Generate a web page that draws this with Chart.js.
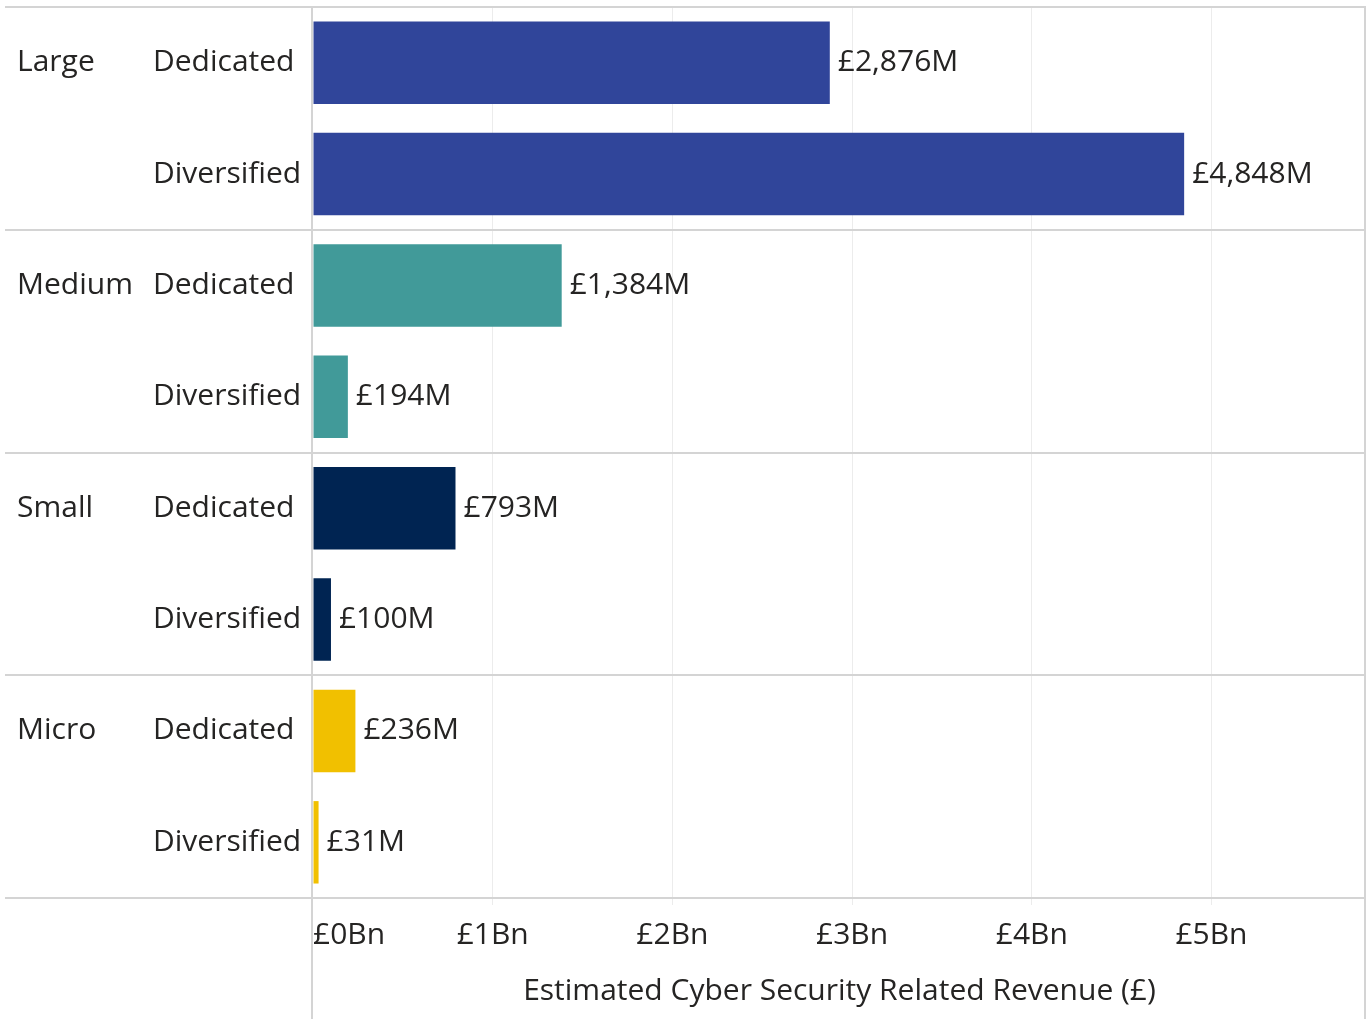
<!DOCTYPE html>
<html>
<head>
<meta charset="utf-8">
<script src="https://cdn.jsdelivr.net/npm/chart.js@4/dist/chart.umd.min.js"></script>
<style>
  html, body { margin: 0; padding: 0; background: #fff; }
  #wrap { width: 1370px; height: 1019px; position: relative; }
</style>
</head>
<body>
<div id="wrap"><canvas id="chart"></canvas></div>
<script>
"use strict";

// Company size bands, each split into two business types.
const sizes = ["Large", "Medium", "Small", "Micro"];
const types = ["Dedicated", "Diversified"];
// Estimated revenue, £M, one value per size/type row.
const revenue = [2876, 4848, 1384, 194, 793, 100, 236, 31];
const bandColours = ["#30459a", "#419a99", "#002452", "#f1c000"];
const xTicks = [0, 1000, 2000, 3000, 4000, 5000];
const xMax = 5860;

const FONT = "'Open Sans', 'Noto Sans', sans-serif";
const FSIZE = 30;
const TXT = "#252423";

const rowLabels = sizes.flatMap(() => types);
const groupLabels = sizes.flatMap((s) => [s, ""]);
const rowColours = sizes.flatMap((s, i) => [bandColours[i], bandColours[i]]);

// Separators between size bands, the outer frame and the zero line.
const frame = {
  id: "frame",
  beforeDatasetsDraw(chart) {
    const { ctx, chartArea: a, scales: { x, y } } = chart;
    ctx.save();
    ctx.strokeStyle = "#d4d4d4";
    ctx.lineWidth = 2;
    ctx.beginPath();
    for (let i = 0; i <= rowLabels.length; i += 2) {
      const py = Math.round(y.getPixelForValue(i - 0.5));
      ctx.moveTo(5, py);
      ctx.lineTo(a.right, py);
    }
    const x0 = Math.round(x.getPixelForValue(0)) - 1;
    ctx.moveTo(x0, a.top);
    ctx.lineTo(x0, chart.height);
    ctx.moveTo(a.right - 1, a.top);
    ctx.lineTo(a.right - 1, chart.height);
    ctx.stroke();
    ctx.restore();
  },
};

// "£1,234M" beside each bar.
const barLabels = {
  id: "barLabels",
  afterDatasetsDraw(chart) {
    const { ctx } = chart;
    const meta = chart.getDatasetMeta(0);
    ctx.save();
    ctx.font = `${FSIZE}px ${FONT}`;
    ctx.fillStyle = TXT;
    ctx.textAlign = "left";
    ctx.textBaseline = "middle";
    meta.data.forEach((bar, i) => {
      const txt = "£" + revenue[i].toLocaleString("en-GB") + "M";
      ctx.fillText(txt, bar.x + 8, bar.y);
    });
    ctx.restore();
  },
};

function noEdgePadding(s) {
  s.paddingTop = 0;
  s.paddingBottom = 0;
  s.paddingLeft = 0;
  s.paddingRight = 0;
}

new Chart(document.getElementById("chart"), {
  type: "bar",
  data: {
    labels: rowLabels,
    datasets: [{
      data: revenue,
      backgroundColor: rowColours,
      borderWidth: 0,
      categoryPercentage: 1,
      barPercentage: 0.74,
    }],
  },
  options: {
    indexAxis: "y",
    responsive: true,
    maintainAspectRatio: false,
    animation: false,
    layout: { padding: { left: 17, top: 7, right: 4, bottom: 0 } },
    plugins: { legend: { display: false }, tooltip: { enabled: false } },
    scales: {
      x: {
        type: "linear",
        min: 0,
        max: xMax,
        afterBuildTicks: (s) => { s.ticks = [...xTicks, xMax].map((v) => ({ value: v })); },
        afterFit: (s) => { s.height = 121; noEdgePadding(s); },
        border: { display: false },
        grid: {
          color: (c) => (c.tick && (c.tick.value === 0 || c.tick.value === xMax)) ? "rgba(0,0,0,0)" : "#ececec",
          lineWidth: 1,
          tickLength: 7,
        },
        ticks: {
          align: "inner",
          padding: 12,
          color: TXT,
          font: { family: FONT, size: FSIZE },
          maxRotation: 0,
          autoSkip: false,
          callback: (v) => (v === xMax ? "" : "£" + v / 1000 + "Bn"),
        },
        title: {
          display: true,
          text: "Estimated Cyber Security Related Revenue (£)",
          color: TXT,
          font: { family: FONT, size: FSIZE },
          padding: { top: 0, bottom: 10 },
        },
      },
      y: {
        type: "category",
        afterFit: (s) => { s.width = 160; noEdgePadding(s); },
        border: { display: false },
        grid: { display: false, drawTicks: false },
        ticks: {
          crossAlign: "far",
          color: TXT,
          font: { family: FONT, size: FSIZE },
          autoSkip: false,
        },
      },
      group: {
        type: "category",
        axis: "y",
        position: "left",
        weight: 1,
        labels: groupLabels,
        offset: true,
        afterFit: (s) => { s.width = 136; noEdgePadding(s); },
        border: { display: false },
        grid: { display: false, drawTicks: false },
        ticks: {
          crossAlign: "far",
          color: TXT,
          font: { family: FONT, size: FSIZE },
          autoSkip: false,
        },
      },
    },
  },
  plugins: [frame, barLabels],
});
</script>
</body>
</html>
